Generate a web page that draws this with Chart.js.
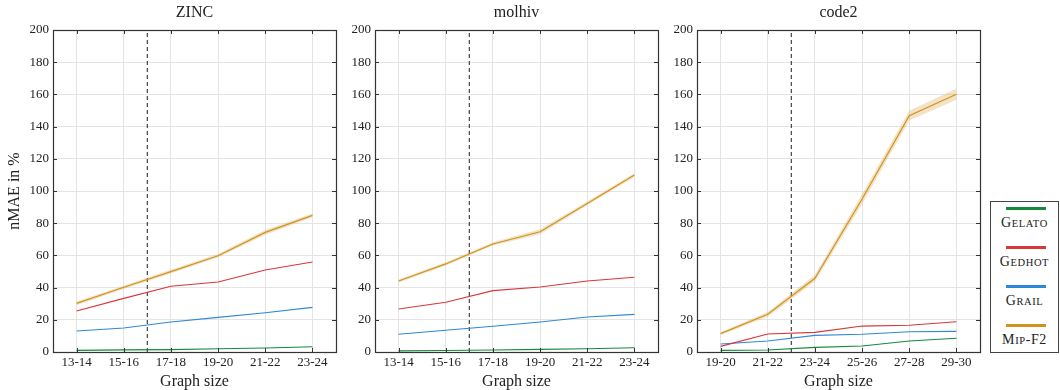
<!DOCTYPE html>
<html>
<head>
<meta charset="utf-8">
<script src="https://cdn.jsdelivr.net/npm/chart.js@4.4.1/dist/chart.umd.min.js"></script>
<style>
  body { margin: 0; background: #fff; width: 1060px; height: 390px; position: relative; overflow: hidden; font-family: 'Liberation Serif', serif; }
  canvas { position: absolute; top: 0; }
  #legend { position: absolute; left: 990px; top: 201px; width: 69px; height: 152px; border: 1px solid #444; box-sizing: border-box; }
  .swatch { position: absolute; left: 15px; width: 40px; height: 3px; }
  .name { position: absolute; left: 0; width: 100%; text-align: center; font-size: 14px; line-height: 16px; letter-spacing: 0.6px; color: #222; white-space: nowrap; }
  .name .sc { font-size: 10.5px; }
</style>
</head>
<body>
<canvas id="zinc" width="340" height="390" style="left:0px"></canvas>
<canvas id="molhiv" width="322" height="390" style="left:340px"></canvas>
<canvas id="code2" width="322" height="390" style="left:662px"></canvas>
<div id="legend"></div>

<script>
// 数据
const zincLabels = ['13-14', '15-16', '17-18', '19-20', '21-22', '23-24'];
const zincGelato = [1.0, 1.3, 1.5, 2.0, 2.5, 3.3];
const zincGedhot = [25.5, 33.3, 40.8, 43.5, 50.9, 55.9];
const zincGrail = [13.0, 14.9, 18.6, 21.5, 24.4, 27.7];
const zincMip = [30.2, 40.2, 49.9, 59.8, 74.3, 84.9];
const zincMipErr = [1.2, 1.0, 1.2, 1.0, 1.5, 1.2];

const molhivLabels = ['13-14', '15-16', '17-18', '19-20', '21-22', '23-24'];
const molhivGelato = [0.7, 0.9, 1.2, 1.6, 2.0, 2.6];
const molhivGedhot = [26.7, 30.9, 38.1, 40.4, 44.1, 46.4];
const molhivGrail = [11.0, 13.5, 16.0, 18.6, 21.7, 23.4];
const molhivMip = [44.1, 54.7, 67.1, 74.7, 92.3, 109.9];
const molhivMipErr = [1.0, 1.0, 1.0, 1.5, 1.2, 1.2];

const code2Labels = ['19-20', '21-22', '23-24', '25-26', '27-28', '29-30'];
const code2Gelato = [1.0, 1.2, 2.9, 3.7, 6.8, 8.5];
const code2Gedhot = [3.5, 11.2, 12.2, 16.1, 16.6, 18.8];
const code2Grail = [5.0, 6.8, 10.3, 11.0, 12.6, 12.8];
const code2Mip = [11.4, 23.4, 45.8, 95.0, 146.8, 160.1];
const code2MipErr = [0.8, 1.5, 2.0, 3.0, 3.0, 3.5];

// 训练/测试尺寸分界（类别索引之间）
const splitIndex = 1.5;
const yMin = 0;
const yMax = 200;
const yStep = 20;

const seriesNames = ['Gelato', 'Gedhot', 'Grail', 'Mip-F2'];
const seriesColors = ['#16893b', '#d8363d', '#2f88d6', '#cf9420'];
const mipBandColor = 'rgba(214, 160, 60, 0.3)';

const FONT = "'Liberation Serif', 'Times New Roman', serif";
const TEXT_COLOR = '#222';

// 把数组转成 {x, y} 点
function toPoints(values) {
    return values.map((v, i) => ({ x: i, y: v }));
}

// 边框和内向刻度
const framePlugin = {
    id: 'frame',
    afterDraw(chart) {
        const { ctx, chartArea: a, scales } = chart;
        ctx.save();
        ctx.strokeStyle = '#333';
        ctx.lineWidth = 1;
        ctx.beginPath();
        scales.x.ticks.forEach(t => {
            const px = Math.round(scales.x.getPixelForValue(t.value)) + 0.5;
            ctx.moveTo(px, a.top); ctx.lineTo(px, a.top + 4);
            ctx.moveTo(px, a.bottom); ctx.lineTo(px, a.bottom - 4);
        });
        scales.y.ticks.forEach(t => {
            const py = Math.round(scales.y.getPixelForValue(t.value)) + 0.5;
            ctx.moveTo(a.left, py); ctx.lineTo(a.left + 4, py);
            ctx.moveTo(a.right, py); ctx.lineTo(a.right - 4, py);
        });
        ctx.stroke();
        ctx.lineWidth = 1.2;
        ctx.strokeRect(Math.round(a.left) + 0.5, Math.round(a.top) + 0.5,
            Math.round(a.right - a.left), Math.round(a.bottom - a.top));
        ctx.restore();
    }
};

// 标题居中于绘图区
const panelTitlePlugin = {
    id: 'panelTitle',
    afterDraw(chart, args, opts) {
        const { ctx, chartArea: a } = chart;
        ctx.save();
        ctx.font = '16px ' + FONT;
        ctx.fillStyle = TEXT_COLOR;
        ctx.textAlign = 'center';
        ctx.textBaseline = 'middle';
        ctx.fillText(opts.text, (a.left + a.right) / 2, 13);
        ctx.restore();
    }
};

function makePanel(id, title, labels, gelato, gedhot, grail, mip, mipErr, yAxisWidth, showYTitle) {
    const ctx = document.getElementById(id).getContext('2d');
    const lineStyle = (color) => ({
        borderColor: color,
        backgroundColor: color,
        borderWidth: 1.1,
        pointRadius: 0,
        tension: 0,
        fill: false
    });
    return new Chart(ctx, {
        type: 'line',
        data: {
            datasets: [
                { label: seriesNames[0], data: toPoints(gelato), ...lineStyle(seriesColors[0]) },
                { label: seriesNames[1], data: toPoints(gedhot), ...lineStyle(seriesColors[1]) },
                { label: seriesNames[2], data: toPoints(grail), ...lineStyle(seriesColors[2]) },
                { label: seriesNames[3], data: toPoints(mip), ...lineStyle(seriesColors[3]), borderWidth: 1.2 },
                {
                    label: 'upper',
                    data: toPoints(mip.map((v, i) => v + mipErr[i])),
                    borderWidth: 0, pointRadius: 0, tension: 0,
                    backgroundColor: mipBandColor, fill: '+1'
                },
                {
                    label: 'lower',
                    data: toPoints(mip.map((v, i) => v - mipErr[i])),
                    borderWidth: 0, pointRadius: 0, tension: 0, fill: false
                },
                {
                    label: 'split',
                    data: [{ x: splitIndex, y: yMin }, { x: splitIndex, y: yMax }],
                    borderColor: '#444', borderWidth: 1.2, borderDash: [4, 3],
                    pointRadius: 0, fill: false
                }
            ]
        },
        options: {
            responsive: false,
            animation: false,
            layout: { padding: { top: 30, right: 4, left: 0, bottom: 0 } },
            plugins: {
                legend: { display: false },
                tooltip: { enabled: false },
                panelTitle: { text: title }
            },
            scales: {
                x: {
                    type: 'linear',
                    min: -0.5,
                    max: labels.length - 0.5,
                    afterBuildTicks: s => { s.ticks = labels.map((_, i) => ({ value: i })); },
                    afterFit: s => { s.height = 38; },
                    grid: { color: '#e4e4e4', drawTicks: false },
                    border: { display: false },
                    ticks: {
                        callback: v => labels[v] ?? '',
                        color: TEXT_COLOR,
                        font: { family: FONT, size: 13 },
                        padding: 2.5,
                        maxRotation: 0,
                        autoSkip: false
                    },
                    title: {
                        display: true,
                        text: 'Graph size',
                        color: TEXT_COLOR,
                        font: { family: FONT, size: 16 },
                        padding: { top: 0, bottom: -1.6 }
                    }
                },
                y: {
                    min: yMin,
                    max: yMax,
                    afterFit: s => { s.width = yAxisWidth; },
                    grid: { color: '#e4e4e4', drawTicks: false },
                    border: { display: false },
                    ticks: {
                        stepSize: yStep,
                        color: TEXT_COLOR,
                        font: { family: FONT, size: 13 },
                        padding: 4
                    },
                    title: {
                        display: showYTitle,
                        text: 'nMAE in %',
                        color: TEXT_COLOR,
                        font: { family: FONT, size: 16 },
                        padding: { top: 5.4, bottom: 0 }
                    }
                }
            }
        },
        plugins: [framePlugin, panelTitlePlugin]
    });
}

makePanel('zinc', 'ZINC', zincLabels, zincGelato, zincGedhot, zincGrail, zincMip, zincMipErr, 53, true);
makePanel('molhiv', 'molhiv', molhivLabels, molhivGelato, molhivGedhot, molhivGrail, molhivMip, molhivMipErr, 35, false);
makePanel('code2', 'code2', code2Labels, code2Gelato, code2Gedhot, code2Grail, code2Mip, code2MipErr, 35, false);

// 图例（小型大写字母：小写字母改为缩小的大写）
const legend = document.getElementById('legend');
seriesNames.forEach((name, i) => {
    const center = 6 + i * 39.2;
    const sw = document.createElement('div');
    sw.className = 'swatch';
    sw.style.top = (center - 1.5) + 'px';
    sw.style.background = seriesColors[i];
    legend.appendChild(sw);
    const lab = document.createElement('div');
    lab.className = 'name';
    lab.style.top = (center + 14.5 - 8) + 'px';
    name.match(/[a-z]+|[^a-z]+/g).forEach(run => {
        if (/[a-z]/.test(run)) {
            const s = document.createElement('span');
            s.className = 'sc';
            s.textContent = run.toUpperCase();
            lab.appendChild(s);
        } else {
            lab.appendChild(document.createTextNode(run));
        }
    });
    legend.appendChild(lab);
});
</script>
</body>
</html>
